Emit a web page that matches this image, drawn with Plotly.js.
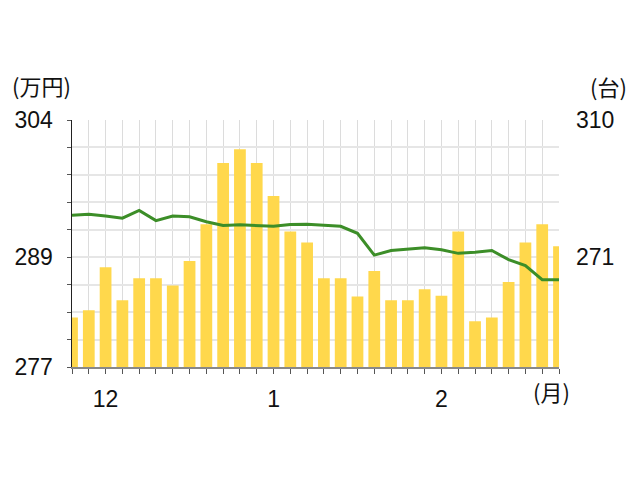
<!DOCTYPE html>
<html>
<head>
<meta charset="utf-8">
<script src="https://cdn.plot.ly/plotly-3.0.1.min.js"></script>
<style>html,body{margin:0;padding:0;background:#fff;}#chart{width:640px;height:480px;}</style>
</head>
<body>
<div id="chart"></div>
<script>
// Period index (bars / points), oldest to newest
const periods = [0,1,2,3,4,5,6,7,8,9,10,11,12,13,14,15,16,17,18,19,20,21,22,23,24,25,26,27,28,29];
// Month tick labels on the x axis (empty string = tick only)
const periodLabels = ['','','12','','','','','','','','','','1','','','','','','','','','','2','','','','','','',''];
// Bars: average price (万円, left axis)
const priceValues = [282.4,283.2,287.9,284.3,286.7,286.7,285.9,288.6,292.6,299.3,
                     300.8,299.3,295.7,291.8,290.6,286.7,286.7,284.7,287.5,284.3,
                     284.3,285.5,284.8,291.8,282.0,282.4,286.3,290.6,292.6,290.2];
// Line: units (台, right axis)
const unitValues = [282.9,283.2,282.7,282.1,284.3,281.4,282.7,282.5,281.1,280.0,
                    280.2,279.9,279.8,280.3,280.4,280.1,279.8,277.8,271.6,272.9,
                    273.3,273.7,273.1,272.1,272.4,272.9,270.3,268.6,264.6,264.6];
// Axis ticks
const leftTickVals = [277,280,283,286,289,292,295,298,301,304];
const leftTickText = ['277','','','','289','','','','','304'];
const rightTickVals = [271,310];
const rightTickText = ['271','310'];
const leftUnit = '(万円)';
const rightUnit = '(台)';
const xUnit = '(月)';

const numFont = {family:'Liberation Sans, Arial, sans-serif', size:23, color:'#111'};
const jpFont = {family:'Noto Sans CJK JP, sans-serif', size:22, color:'#111'};

const traces = [
  {type:'bar', x:periods, y:priceValues, yaxis:'y', marker:{color:'#FFD84C'}, hoverinfo:'skip'},
  {type:'scatter', mode:'lines', x:periods, y:unitValues, yaxis:'y2', line:{color:'#3C8E28', width:3}, hoverinfo:'skip'}
];

const PL=72, PR=559, PT=120, PB=367;
const px = v => (v-PL)/(PR-PL);
const py = v => (PB-v)/(PB-PT);

const layout = {
  width:640, height:480,
  margin:{l:PL, r:640-PR, t:PT, b:480-PB, pad:0},
  paper_bgcolor:'#fff', plot_bgcolor:'#fff',
  showlegend:false, bargap:0.3,
  xaxis:{range:[0,29], tickmode:'array', tickvals:periods, ticktext:periodLabels,
         showgrid:true, gridcolor:'#dcdcdc', gridwidth:1, zeroline:false,
         ticks:'outside', ticklen:5, tickcolor:'#555', tickwidth:1,
         showline:true, linecolor:'#888', linewidth:1.5,
         tickfont:numFont, ticklabelstandoff:6, fixedrange:true},
  yaxis:{range:[277,304], tickmode:'array', tickvals:leftTickVals, ticktext:leftTickText,
         showgrid:true, gridcolor:'#e6e6e6', gridwidth:2, zeroline:false,
         ticks:'outside', ticklen:4, tickcolor:'#555', tickwidth:1,
         showline:true, linecolor:'#222', linewidth:1.5,
         tickfont:numFont, ticklabelstandoff:9, fixedrange:true},
  yaxis2:{range:[239.8,310], overlaying:'y', side:'right', tickmode:'array',
          tickvals:rightTickVals, ticktext:rightTickText, showgrid:false, zeroline:false,
          showline:false, ticks:'', tickfont:numFont, ticklabelstandoff:16, fixedrange:true},
  annotations:[
    {xref:'paper', yref:'paper', x:px(73), y:py(85), xanchor:'right', yanchor:'middle', text:leftUnit, showarrow:false, font:jpFont},
    {xref:'paper', yref:'paper', x:px(629), y:py(86), xanchor:'right', yanchor:'middle', text:rightUnit, showarrow:false, font:jpFont},
    {xref:'paper', yref:'paper', x:px(551), y:py(391), xanchor:'center', yanchor:'middle', text:xUnit, showarrow:false, font:jpFont}
  ]
};

Plotly.newPlot('chart', traces, layout, {staticPlot:true, displayModeBar:false});
</script>
</body>
</html>
